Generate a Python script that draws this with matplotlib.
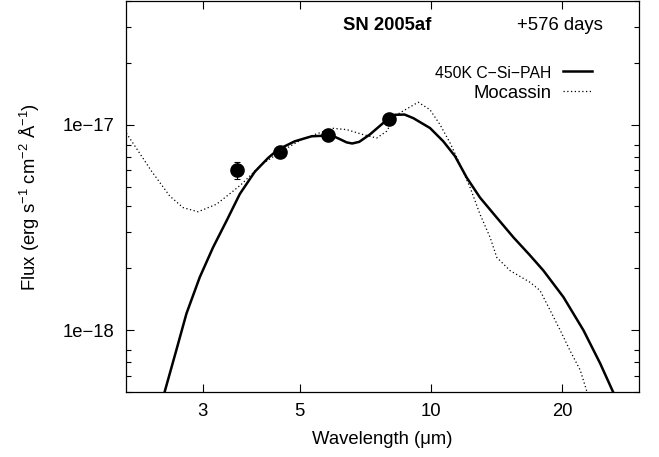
import numpy as np
import matplotlib
matplotlib.use('Agg')
import matplotlib.pyplot as plt
from matplotlib.ticker import LogLocator, NullLocator, NullFormatter

plt.rcParams['font.family'] = ['Liberation Sans', 'DejaVu Sans']
plt.rcParams['mathtext.fontset'] = 'custom'
plt.rcParams['mathtext.rm'] = 'Liberation Sans'
plt.rcParams['mathtext.it'] = 'Liberation Sans:italic'

# photometry (IRAC bands)
obs_wl = [3.6, 4.5, 5.8, 8.0]
obs_flux = [6.0e-18, 7.35e-18, 8.95e-18, 1.06e-17]
obs_err = [0.55e-18, 0.3e-18, 0.3e-18, 0.3e-18]

# 450K C-Si-PAH model
mod_wl = [2.455, 2.61, 2.753, 2.953, 3.168, 3.40, 3.648, 3.948, 4.236, 4.465,
          4.875, 5.33, 5.92, 6.15, 6.41, 6.6, 6.85, 7.24, 7.77, 8.27, 8.7,
          9.11, 9.95, 10.67, 11.35, 12.08, 12.95, 14.15, 15.45, 16.81, 18.10,
          20.11, 22.35, 24.41, 26.11]
mod_flux = [5.03e-19, 8.0e-19, 1.205e-18, 1.81e-18, 2.53e-18, 3.40e-18, 4.6e-18,
            5.9e-18, 6.89e-18, 7.57e-18, 8.3e-18, 8.78e-18, 8.87e-18, 8.55e-18,
            8.2e-18, 8.1e-18, 8.25e-18, 8.95e-18, 1.018e-17, 1.117e-17, 1.12e-17,
            1.076e-17, 9.63e-18, 8.3e-18, 7.03e-18, 5.52e-18, 4.42e-18, 3.53e-18,
            2.83e-18, 2.33e-18, 1.95e-18, 1.45e-18, 1.0e-18, 6.9e-19, 5.03e-19]

# Mocassin model
moc_wl = [2.005, 2.29, 2.52, 2.704, 2.926, 3.225, 3.521, 3.68, 4.09, 4.547,
          5.05, 5.45, 5.97, 6.41, 6.99, 7.51, 7.91, 8.34, 9.35, 9.95, 10.49,
          11.06, 11.66, 12.3, 12.95, 13.66, 14.15, 15.18, 16.87, 17.78, 18.75,
          19.77, 20.8, 21.97, 22.75]
moc_flux = [9.1e-18, 5.94e-18, 4.50e-18, 3.95e-18, 3.77e-18, 4.10e-18, 4.75e-18,
            5.13e-18, 6.40e-18, 7.43e-18, 8.46e-18, 9.0e-18, 9.6e-18, 9.46e-18,
            8.95e-18, 8.61e-18, 9.28e-18, 1.117e-17, 1.286e-17, 1.182e-17, 1.0e-17,
            8.15e-18, 6.40e-18, 4.93e-18, 3.67e-18, 2.83e-18, 2.26e-18, 1.95e-18,
            1.71e-18, 1.56e-18, 1.25e-18, 1.0e-18, 8.0e-19, 6.4e-19, 5.05e-19]

xticks = [3, 5, 10, 20]
yticks = [1e-18, 1e-17]
ytick_labels = ['1e\u221218', '1e\u221217']

fs = 13.3

fig = plt.figure(figsize=(6.59, 4.57), dpi=100)
ax = fig.add_axes([0.191, 0.142, 0.779, 0.856])

ax.plot(mod_wl, mod_flux, 'k-', lw=1.8, label='450K C\u2212Si\u2212PAH')
ax.plot(moc_wl, moc_flux, color='k', ls=(0, (1, 2)), lw=0.9, label='Mocassin')
ax.errorbar(obs_wl, obs_flux, yerr=obs_err, fmt='o', color='k', ms=9.5,
            capsize=2, elinewidth=0.8, capthick=0.8)

ax.set_xscale('log')
ax.set_yscale('log')
ax.set_xlim(2, 30)
ax.set_ylim(5e-19, 4e-17)

ax.xaxis.set_minor_locator(NullLocator())
ax.set_xticks(xticks, labels=[str(t) for t in xticks])
ax.set_yticks(yticks, labels=ytick_labels)
ax.yaxis.set_minor_locator(LogLocator(base=10, subs=[2, 3, 4, 5, 6, 7, 8]))
ax.yaxis.set_minor_formatter(NullFormatter())
ax.tick_params(which='both', direction='in', top=True, right=True, labelsize=fs)
ax.tick_params(which='major', length=6, width=0.8, pad=8)
ax.tick_params(which='minor', length=3.5, width=0.8)
for s in ax.spines.values():
    s.set_linewidth(0.9)

ax.set_xlabel('Wavelength (\u03bcm)', fontsize=fs, labelpad=8)
ax.set_ylabel(r'Flux (erg s$^{-1}$ cm$^{-2}$ Å$^{-1}$)', fontsize=fs, labelpad=15)

ax.text(0.51, 0.936, 'SN 2005af', transform=ax.transAxes, ha='center', va='center',
        fontsize=fs, fontweight='bold')
ax.text(0.846, 0.936, '+576 days', transform=ax.transAxes, ha='center', va='center',
        fontsize=fs)

leg = ax.legend(loc='upper right', bbox_to_anchor=(0.922, 0.855), frameon=False,
                markerfirst=False, handlelength=1.55, handletextpad=0.65,
                labelspacing=0.2, fontsize=fs, borderaxespad=0)
leg.get_texts()[0].set_fontsize(11.3)

fig.savefig('out.png', dpi=100)
